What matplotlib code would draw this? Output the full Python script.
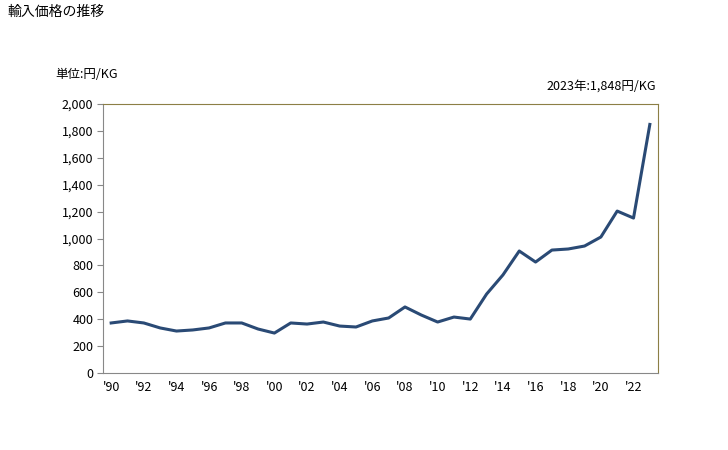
import matplotlib
matplotlib.use("Agg")
import matplotlib.pyplot as plt

plt.rcParams['font.family'] = ['Noto Sans CJK JP', 'DejaVu Sans']

years = list(range(1990, 2024))
prices = [372, 387, 372, 335, 312, 320, 335, 372, 372, 327,
          297, 372, 364, 379, 349, 342, 387, 409, 491, 431,
          379, 416, 401, 587, 729, 907, 825, 914, 922, 944,
          1011, 1204, 1152, 1848]
tick_years = list(range(1990, 2023, 2))
tick_labels = ["'" + str(y)[2:] for y in tick_years]
y_ticks = list(range(0, 2001, 200))

fig = plt.figure(figsize=(7.28, 4.5), dpi=100)
ax = fig.add_axes([103 / 728, 1 - 373 / 450, 555 / 728, 269 / 450])

ax.plot(years, prices, color='#2a4a75', linewidth=2.2)

ax.set_xlim(1989.5, 2023.5)
ax.set_ylim(0, 2000)
ax.set_xticks(tick_years)
ax.set_xticklabels(tick_labels)
ax.set_yticks(y_ticks)
ax.set_yticklabels([f'{v:,}' for v in y_ticks])
ax.tick_params(axis='x', length=0, labelsize=9, pad=6)
ax.tick_params(axis='y', length=4, color='#888888', labelsize=9, pad=3)

ax.spines['left'].set_color('#888888')
ax.spines['bottom'].set_color('#888888')
ax.spines['top'].set_color('#8c7f45')
ax.spines['right'].set_color('#8c7f45')

# titles
fig.text(8 / 728, 1 - 12 / 450, '輸入価格の推移', fontsize=10, va='center')
fig.text(55 / 728, 1 - 74 / 450, '単位:円/KG', fontsize=9, va='center')
fig.text(656 / 728, 1 - 86 / 450, '2023年:1,848円/KG', fontsize=9,
         va='center', ha='right')

fig.savefig('out.png', dpi=100)
